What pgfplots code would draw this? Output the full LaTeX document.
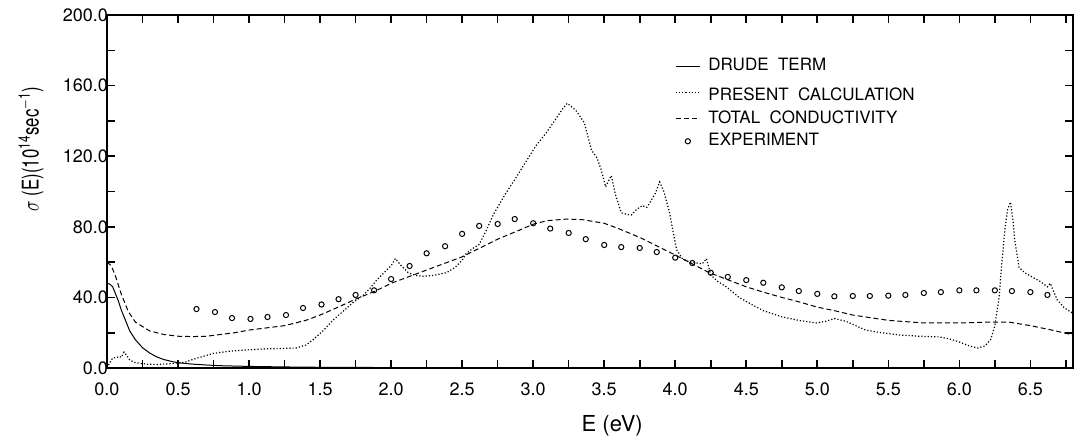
\documentclass[border=0pt]{standalone}
\usepackage{fontspec}
\setmainfont{TeX Gyre Heros}
\usepackage{pgfplots}
\pgfplotsset{compat=1.18}
\begin{document}
\begin{tikzpicture}
\begin{axis}[
  scale only axis,
  width=483pt, height=176.5pt,
  xmin=0, xmax=6.8, ymin=0, ymax=200,
  axis line style={line width=1pt},
  xtick={0,0.5,...,6.5},
  minor xtick={0.25,0.75,...,6.75},
  ytick={0,40,...,200},
  minor ytick={20,60,...,180},
  tick align=inside,
  major tick length=4pt, minor tick length=4pt,
  every tick/.style={black, line width=0.8pt},
  tick label style={font=\fontsize{9}{10}\selectfont},
  xticklabel style={yshift=-4pt},
  yticklabel style={xshift=4pt},
  /pgf/number format/assume math mode=true,
  /pgf/number format/.cd, fixed, fixed zerofill, precision=1, /pgfplots/.cd,
  xlabel={E (eV)},
  xlabel style={font=\fontsize{11}{12}\selectfont, at={(axis description cs:0.523,-0.163)}, anchor=center},
  ylabel={\scalebox{0.73}[1]{$\sigma$ (E)(10\textsuperscript{14}sec\textsuperscript{$-$1})}},
  ylabel style={font=\fontsize{11.5}{12}\selectfont, at={(axis description cs:-0.0787,0.62)}, anchor=center},
  legend image code/.code={\draw[mark repeat=2,mark phase=2,#1] plot coordinates {(0pt,0pt)(6pt,0pt)(12pt,0pt)}; \path (15pt,0pt);},
  legend style={draw=none, fill=none, font=\fontsize{8.5}{9}\selectfont,
    at={(axis cs:3.955,179)}, anchor=north west, row sep=1.5pt,
    nodes={inner sep=1pt}},
  legend cell align=left,
]
\addplot[black, line width=0.5pt] coordinates {
(0,48) (0.02,47.5) (0.04,46) (0.06,42) (0.08,38) (0.1,33) (0.13,27) (0.16,21) (0.2,16) (0.25,11.5) (0.3,8.5) (0.35,6.3) (0.4,4.8) (0.45,3.8) (0.5,3) (0.6,2.2) (0.7,1.7) (0.8,1.3) (1.0,0.9) (1.25,0.6) (1.5,0.4) (2.0,0.25) (2.5,0.1)
};
\addlegendentry{DRUDE\ \ TERM}
\addplot[black, line width=0.6pt, densely dotted] coordinates {
(0.0,0) (0.02,3) (0.04,5.7) (0.07,6) (0.09,6.6) (0.1,6) (0.12,9) (0.14,7) (0.16,4.5) (0.2,3) (0.28,2.2) (0.35,2) (0.44,2.4) (0.55,3.3) (0.63,5.5) (0.75,8.3) (0.86,9.5) (0.98,10.2) (1.1,10.8) (1.2,11) (1.33,11.3) (1.4,13) (1.45,16) (1.52,21) (1.59,27) (1.66,32) (1.73,37) (1.8,41) (1.85,45) (1.9,50) (1.95,54) (2.0,58) (2.03,62) (2.07,58) (2.12,54) (2.17,52.5) (2.22,52) (2.3,52.5) (2.39,54) (2.45,57) (2.5,61) (2.53,65) (2.58,68) (2.62,70) (2.67,78) (2.72,87) (2.8,98) (2.88,108) (2.95,117) (3.02,126) (3.09,133) (3.15,140) (3.2,146) (3.24,150) (3.27,148) (3.3,146) (3.36,139) (3.41,123.5) (3.45,119) (3.48,112) (3.51,102.6) (3.53,106) (3.55,109) (3.58,98) (3.62,88) (3.66,87) (3.69,86.7) (3.73,90) (3.77,92) (3.8,91) (3.82,93.5) (3.86,99) (3.89,105.4) (3.92,100) (3.96,88) (3.99,75) (4.01,67) (4.05,62) (4.1,60) (4.15,59.5) (4.19,59) (4.22,62) (4.25,52.7) (4.3,49) (4.36,46) (4.45,40) (4.52,36.8) (4.62,32.5) (4.75,29) (4.87,27) (4.99,25.5) (5.06,26.5) (5.12,28) (5.2,26.5) (5.34,21.5) (5.45,20) (5.58,18.7) (5.72,18) (5.86,17.6) (5.93,16.5) (6.0,14.7) (6.07,12.5) (6.13,11.3) (6.18,12.5) (6.22,16) (6.25,24) (6.28,40) (6.3,60) (6.32,78) (6.34,90) (6.36,94) (6.38,82) (6.39,72.5) (6.42,57) (6.46,54) (6.51,51.7) (6.57,49) (6.62,46) (6.64,48) (6.66,44) (6.69,38.5) (6.74,34) (6.8,31)
};
\addlegendentry{\rule{0pt}{10pt}PRESENT\ \ CALCULATION}
\addplot[black, line width=0.5pt, dash pattern=on 2.5pt off 1.5pt] coordinates {
(0,60) (0.03,58) (0.06,52) (0.1,42) (0.15,32) (0.2,26) (0.3,21) (0.4,19) (0.5,18) (0.6,17.8) (0.7,18) (0.8,19) (0.9,20) (1.0,21.5) (1.1,22.5) (1.25,24) (1.4,27) (1.5,30) (1.6,33.5) (1.75,39) (1.9,44) (2.0,48) (2.1,51) (2.25,55.5) (2.4,60) (2.5,63) (2.6,67) (2.75,73) (2.9,78) (3.0,81.5) (3.1,83.5) (3.24,84.4) (3.35,84) (3.5,82) (3.6,79) (3.75,74) (3.9,68) (4.0,64) (4.12,59) (4.24,54) (4.37,50) (4.5,46) (4.62,43) (4.75,40) (4.87,37.5) (5.0,34.5) (5.12,32.5) (5.25,30) (5.5,27) (5.75,25.5) (6.0,25.5) (6.2,26) (6.35,26) (6.5,24) (6.65,21.5) (6.8,18.7)
};
\addlegendentry{TOTAL\ \ CONDUCTIVITY}
\addplot[black, only marks, mark=o, mark size=1.3pt, mark options={line width=0.5pt}] coordinates {
(0.63,33.4) (0.76,31.7) (0.88,28.3) (1.01,27.8) (1.13,28.9) (1.26,30) (1.38,34) (1.51,36) (1.63,39) (1.75,41.4) (1.88,44) (2.00,50.4) (2.13,57.8) (2.25,65) (2.38,69) (2.50,76) (2.62,80.5) (2.75,81.6) (2.87,84.4) (3.00,82) (3.12,79) (3.25,76.5) (3.37,73) (3.50,69.7) (3.62,68.5) (3.75,68) (3.87,65.7) (4.00,62.5) (4.12,59.5) (4.25,54) (4.37,51.6) (4.50,49.8) (4.62,48.3) (4.75,45.7) (4.87,43.6) (5.00,42) (5.12,40.6) (5.25,40.8) (5.37,40.8) (5.50,41) (5.62,41.4) (5.75,42.5) (5.87,43) (6.00,44) (6.12,44) (6.25,44) (6.37,43.6) (6.50,43) (6.62,41.4)
};
\addlegendentry{EXPERIMENT}
\end{axis}
\pgfresetboundingbox
\path[use as bounding box] ([xshift=-53.5pt,yshift=-38.5pt]current axis.south west) rectangle ([xshift=0.5pt,yshift=7.5pt]current axis.north east);
\end{tikzpicture}
\end{document}
